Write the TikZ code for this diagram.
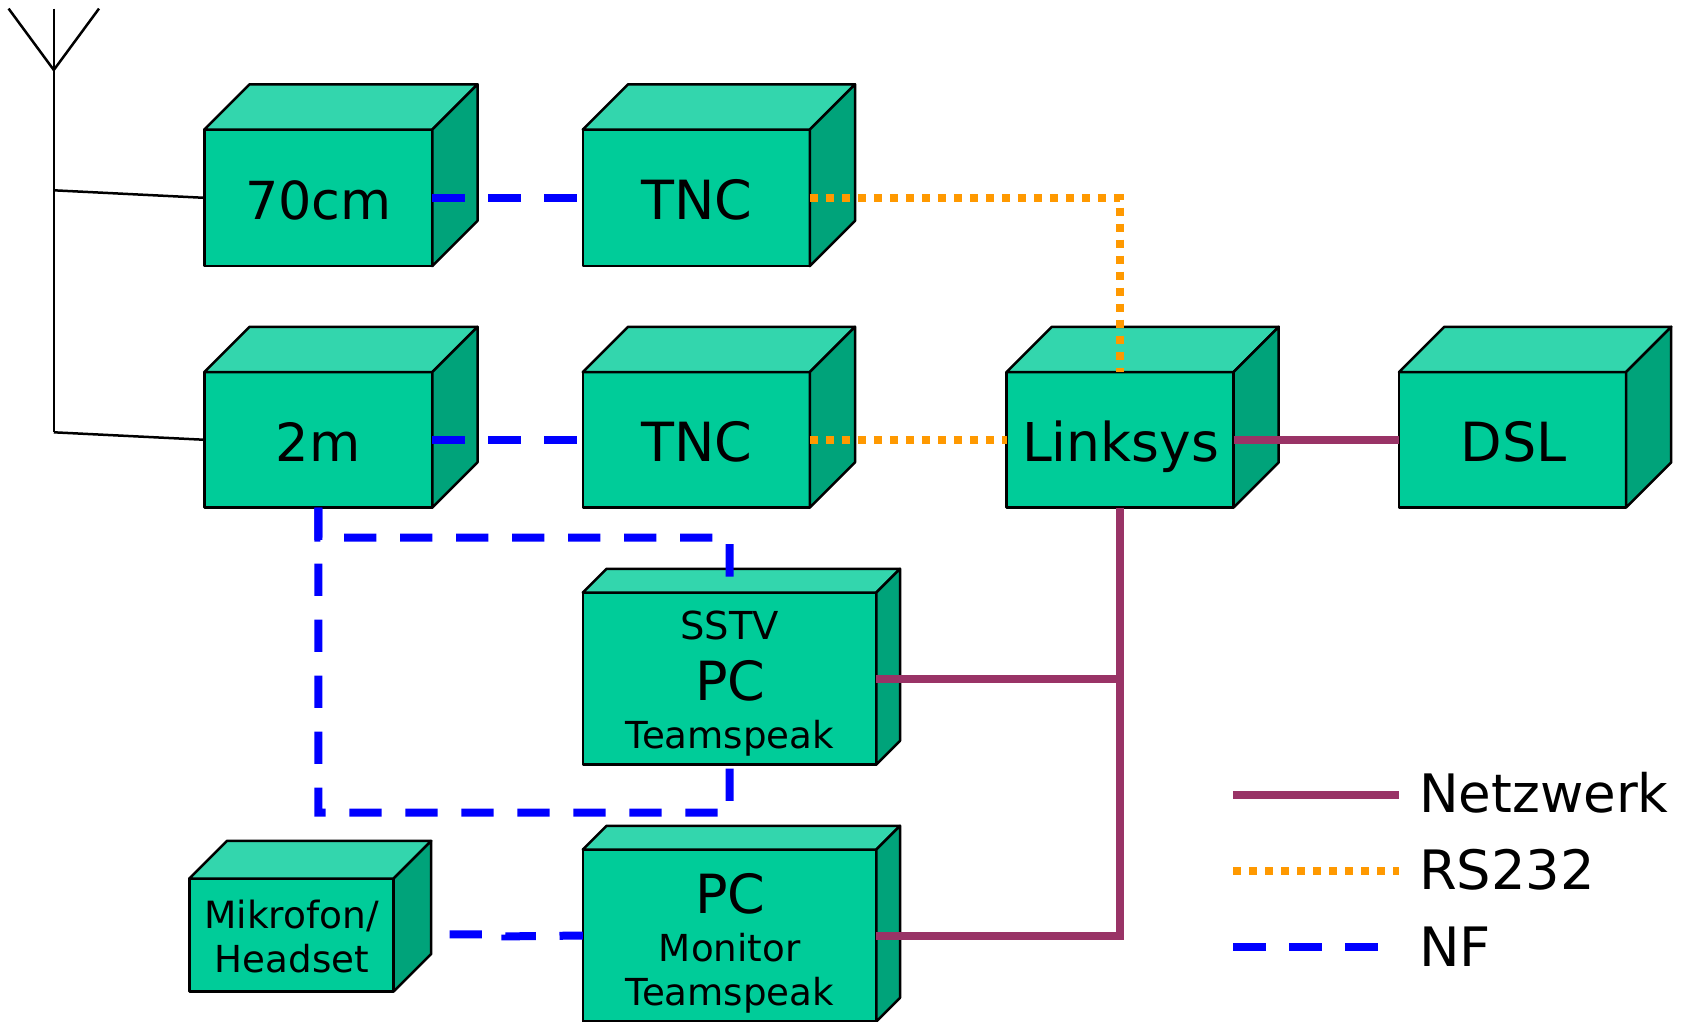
\documentclass[tikz,border=0pt]{standalone}
\usepackage{fontspec}
\setmainfont{DejaVu Sans}
\definecolor{frontc}{HTML}{00CC99}
\definecolor{topc}{HTML}{33D6AD}
\definecolor{sidec}{HTML}{00A37A}
\definecolor{netc}{HTML}{993366}
\definecolor{rsc}{HTML}{FF9900}
\definecolor{nfc}{HTML}{0000FF}
\tikzset{
  front/.style={draw=black,fill=frontc,line width=2.5pt,inner sep=0pt,outer sep=0pt,anchor=north west,line join=round},
  topface/.style={draw=black,fill=topc,line width=2.5pt,line join=round},
  sideface/.style={draw=black,fill=sidec,line width=2.5pt,line join=round},
  wire/.style={black,line width=2.5pt},
  netline/.style={netc,line width=8pt,line join=miter},
  rsline/.style={rsc,line width=8pt,dash pattern=on 8pt off 8pt},
  nfline/.style={nfc,line width=8pt,dash pattern=on 32.3pt off 23.7pt,line join=miter},
  big/.style={inner sep=0pt,anchor=base,font=\fontsize{#1}{#1}\selectfont},
  big/.default=54,
  small/.style={inner sep=0pt,anchor=base,font=\fontsize{#1}{#1}\selectfont},
  small/.default=37.2,
  legendtext/.style={inner sep=0pt,anchor=base west,font=\fontsize{#1}{#1}\selectfont},
}
% name, x, y, w, h, depth
\newcommand{\cubebox}[6]{%
  \node[front,minimum width=#4pt,minimum height=#5pt] (#1) at (#2,#3) {};
  \draw[topface] (#1.north west) -- ++(#6,-#6) -- ++(#4,0) -- ++(-#6,#6) -- cycle;
  \draw[sideface] (#1.north east) -- ++(#6,-#6) -- ++(0,#5) -- ++(-#6,#6) -- cycle;
}
\begin{document}
\begin{tikzpicture}[x=1pt,y=-1pt]
\path[use as bounding box,clip] (0,0) rectangle (1686,1021);
% antenna
\coordinate (anttop) at (53.8,8.6);
\coordinate (antl) at (8.6,8.6);
\coordinate (antr) at (99,8.6);
\coordinate (antj) at (53.8,70);
\coordinate (antb1) at (53.8,190.3);
\coordinate (antb2) at (53.8,432.3);
% boxes
\cubebox{seventy}{204.3}{129.5}{228}{136.6}{45.2}
\cubebox{tncone}{582.8}{129.5}{227}{136.6}{45.2}
\cubebox{twom}{204.3}{372}{228}{135.5}{45.2}
\cubebox{tnctwo}{582.8}{372}{227}{135.5}{45.2}
\cubebox{linksys}{1006.5}{372}{227}{135.5}{45.2}
\cubebox{dsl}{1399}{372}{227}{135.5}{45.2}
\cubebox{pcone}{582.8}{592.5}{293.5}{172}{23.7}
\cubebox{pctwo}{582.8}{849.5}{293.5}{172}{23.7}
\cubebox{mic}{189.3}{878.5}{204.3}{112.9}{37.6}
% antenna wires
\draw[wire] (anttop) -- (antb2);
\draw[wire,line join=round] (antl) -- (antj) -- (antr);
\draw[wire] (antb1) -- (seventy.west);
\draw[wire] (antb2) -- (twom.west);
% NF
\coordinate (nfa) at (318.3,537.7);
\coordinate (nfb) at (729.6,537.7);
\coordinate (nfc1) at (318.3,812.5);
\coordinate (nfd) at (729.6,812.5);
\coordinate (mica) at (449.5,934.4);
\coordinate (micb) at (505.4,934.4);
\coordinate (micc) at (505.4,936.4);
\draw[nfline] (seventy.east) -- (tncone.west);
\draw[nfline] (twom.east) -- (tnctwo.west);
\draw[nfline] (twom.south) -- (nfa) -- (nfb) -- (pcone.north);
\draw[nfline] (twom.south) -- (nfc1) -- (nfd) -- (pcone.south);
\draw[nfline] (mica) -- (micb) -- (micc) -- (pctwo.west);
% RS232
\draw[rsline] (tncone.east) -| (linksys.north);
\draw[rsline] (tnctwo.east) -- (linksys.west);
% network
\draw[netline] (linksys.east) -- (dsl.west);
\draw[netline] (linksys.south) |- (pctwo.east);
\draw[netline] (pcone.east) -- (pcone.east -| linksys.south);
% labels
\node[big=52.4] (t70) at (318.3,219) {70cm};
\node[big] (ttnc1) at (696.6,219.5) {TNC};
\node[big=52.6] (t2m) at (318.3,461) {2m};
\node[big] (ttnc2) at (696.6,461) {TNC};
\node[big=53.5] (tlink) at (1120.5,461) {Linksys};
\node[big] (tdsl) at (1513.5,461) {DSL};
\node[small=38.5] (tsstv) at (729.6,639) {SSTV};
\node[big] (tpc1) at (730.3,700) {PC};
\node[small] (tts1) at (729.9,748) {Teamspeak};
\node[small=37.5] (tmik) at (291.5,928) {Mikrofon/};
\node[small] (thead) at (291.8,972) {Headset};
\node[big] (tpc2) at (730.3,913) {PC};
\node[small] (tmon) at (729.6,961) {Monitor};
\node[small] (tts2) at (729.9,1005.5) {Teamspeak};
% legend
\coordinate (la1) at (1233.4,794.6);
\coordinate (la2) at (1399,794.6);
\coordinate (lb1) at (1233.4,871);
\coordinate (lb2) at (1399,871);
\coordinate (lc1) at (1233.4,947.4);
\coordinate (lc2) at (1399,947.4);
\draw[netline] (la1) -- (la2);
\draw[rsline] (lb1) -- (lb2);
\draw[nfline] (lc1) -- (lc2);
\node[legendtext=53] (lnet) at (1419,812.5) {Netzwerk};
\node[legendtext=54.3] (lrs) at (1419,889) {RS232};
\node[legendtext=54.3] (lnf) at (1419,966.5) {NF};
\end{tikzpicture}
\end{document}
